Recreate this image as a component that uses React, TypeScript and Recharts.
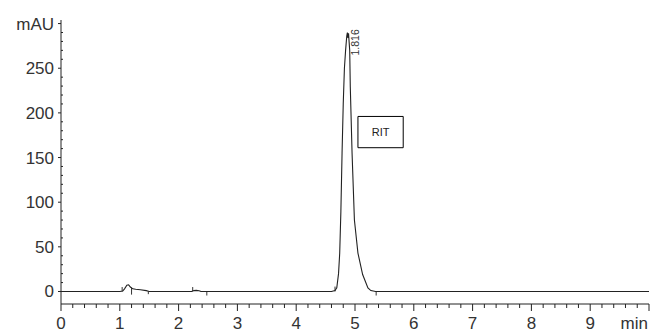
import {
  LineChart,
  Line,
  XAxis,
  YAxis,
  ReferenceArea,
  ReferenceDot,
  ReferenceLine,
} from "recharts";

// retention time (min) and absorbance (mAU)
const times = [
  0, 1.0, 1.05, 1.08, 1.12, 1.15, 1.18, 1.22, 1.27, 1.35, 1.45, 1.5, 2.22, 2.26,
  2.3, 2.35, 2.38, 4.6, 4.66, 4.69, 4.72, 4.74, 4.76, 4.78, 4.8, 4.82, 4.84,
  4.86, 4.87, 4.88, 4.89, 4.91, 4.92, 4.95, 4.99, 5.05, 5.13, 5.22, 5.27, 5.35,
  10,
];
const signal = [
  0, 0, 0.5, 3, 7, 7.5, 5, 3, 2.5, 2, 1, 0, 0, 1, 1.2, 0.8, 0, 0, 1, 4, 20, 43,
  90, 155, 210, 250, 270, 286, 290, 284, 289, 270, 229, 155, 80, 43, 19, 4, 1, 0,
  0,
];

// integration start/stop marks
const markTimes = [1.04, 1.2, 1.485, 2.24, 2.48, 4.66, 5.36];
const markLow = [0, -3.5, -3, 0, -4.5, 0, -4.5];
const markHigh = [5, 4.5, 0, 5, 0, 5.5, 0];

const yTicks = Array.from({ length: 31 }, (_, i) => i * 10);
const xTicks = Array.from({ length: 51 }, (_, i) => Math.round(i * 2) / 10);

const peakTime = 4.87;
const peakHeight = 290;
const peakLabel = "1.816";

const data = times.map((t, i) => ({ t, v: signal[i] }));

const FONT = "'Liberation Sans', Arial, sans-serif";
const INK = "#222";

function YTick(props: any) {
  const { x, y, payload } = props;
  const v = payload.value as number;
  const major = v % 50 === 0;
  const label = v === 300 ? "mAU" : major ? String(v) : null;
  return (
    <g>
      {major || v === 300 ? (
        <line x1={x - 3} y1={y} x2={x} y2={y} stroke={INK} />
      ) : (
        <line x1={x} y1={y} x2={x + 2} y2={y} stroke={INK} />
      )}
      {label && (
        <text
          x={x - 7}
          y={y}
          dy={6}
          textAnchor="end"
          fontSize={17}
          fontFamily={FONT}
          fill="#333"
        >
          {label}
        </text>
      )}
    </g>
  );
}

function XTick(props: any) {
  const { x, y, payload } = props;
  const v = payload.value as number;
  const major = Math.abs(v - Math.round(v)) < 1e-6;
  const label = v === 10 ? "min" : major ? String(Math.round(v)) : null;
  return (
    <g>
      <line x1={x} y1={y} x2={x} y2={y + (major ? 7 : 4)} stroke={INK} />
      {label && (
        <text
          x={v === 10 ? x - 1 : x}
          y={y + 25}
          textAnchor={v === 10 ? "end" : "middle"}
          fontSize={17}
          fontFamily={FONT}
          fill="#333"
        >
          {label}
        </text>
      )}
    </g>
  );
}

function PeakLabel(props: any) {
  const { viewBox } = props;
  const x = viewBox.x + 12;
  const y = viewBox.y + 23;
  return (
    <text
      x={x}
      y={y}
      transform={`rotate(-90 ${x} ${y})`}
      fontSize={10.5}
      fontFamily={FONT}
      fill="#333"
    >
      {peakLabel}
    </text>
  );
}

export default function App() {
  return (
    <div style={{ position: "absolute", left: 0, top: 0 }}>
      <LineChart
        width={651}
        height={333}
        data={data}
        margin={{ top: 20, right: 2, left: 0, bottom: 0 }}
      >
        <XAxis
          dataKey="t"
          type="number"
          domain={[0, 10]}
          ticks={xTicks}
          interval={0}
          height={29}
          axisLine={{ stroke: INK }}
          tickLine={false}
          tickSize={0}
          tickMargin={0}
          tick={<XTick />}
        />
        <YAxis
          type="number"
          domain={[-14, 304]}
          ticks={yTicks}
          interval={0}
          width={61}
          axisLine={{ stroke: INK }}
          tickLine={false}
          tickSize={0}
          tickMargin={0}
          tick={<YTick />}
        />
        <ReferenceArea
          x1={5.05}
          x2={5.82}
          y1={161}
          y2={196}
          fill="#fff"
          fillOpacity={1}
          stroke="#000"
          label={{
            value: "RIT",
            position: "center",
            fontSize: 11,
            fontFamily: FONT,
            fill: "#222",
          }}
        />
        {markTimes.map((t, i) => (
          <ReferenceLine
            key={i}
            segment={[
              { x: t, y: markLow[i] },
              { x: t, y: markHigh[i] },
            ]}
            stroke="#333"
          />
        ))}
        <Line
          type="linear"
          dataKey="v"
          stroke={INK}
          strokeWidth={1.1}
          dot={false}
          isAnimationActive={false}
        />
        <ReferenceDot
          x={peakTime}
          y={peakHeight}
          r={0}
          stroke="none"
          label={<PeakLabel />}
        />
      </LineChart>
    </div>
  );
}
